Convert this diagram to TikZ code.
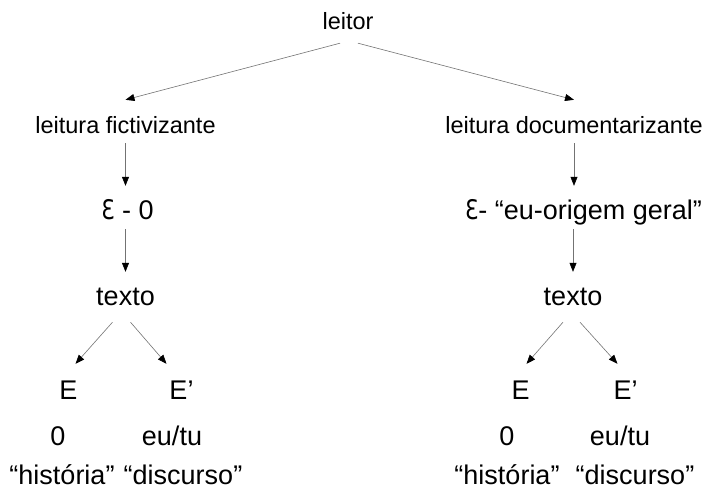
\documentclass[tikz,border=0pt]{standalone}
\usepackage{fontspec}
\setmainfont{Liberation Sans}
\newfontfamily\epsfont{DejaVu Sans}
\usetikzlibrary{arrows.meta}

\newcommand{\epsl}{\scalebox{0.8}[1]{\epsfont Ɛ}}

\begin{document}
\begin{tikzpicture}[x=1pt,y=-1pt,
    nivelsup/.style={font=\fontsize{23.5}{28}\selectfont, inner sep=0pt,
      anchor=base, text height=33pt, text depth=10pt},
    nivelinf/.style={font=\fontsize{27}{32}\selectfont, inner sep=0pt,
      anchor=base, text height=33pt, text depth=10pt},
    seta/.style={draw=black!55, line width=0.6pt,
      -{Triangle[length=9pt,width=7pt,color=black]}}]
  \useasboundingbox (0,0) rectangle (710,490);
  % top
  \node[nivelsup, text depth=14pt] (leitor) at (348,29) {leitor};
  \node[nivelsup] (lf) at (125.5,133) {leitura fictivizante};
  \node[nivelsup] (ld) at (574,133) {leitura documentarizante};
  % left branch
  \node[nivelinf] (eps0) at (127.5,219) {\epsl{} - 0};
  \node[nivelinf, text depth=17pt] (texto0) at (125.5,305) {texto};
  \node[nivelinf, text height=35pt] (E0) at (68.5,399) {E};
  \node[nivelinf, text height=35pt] (Ep0) at (181.5,399) {E’};
  \node[nivelinf] (zero0) at (58,445) {0};
  \node[nivelinf] (eutu0) at (172,445) {eu/tu};
  \node[nivelinf, text depth=1pt] (hist0) at (62,484) {“história”};
  \node[nivelinf, text depth=1pt] (disc0) at (183,484) {“discurso”};
  % right branch
  \node[nivelinf] (eps1) at (583.5,219) {\epsl- “eu-origem geral”};
  \node[nivelinf, text depth=17pt] (texto1) at (573,305) {texto};
  \node[nivelinf, text height=35pt] (E1) at (520.5,399) {E};
  \node[nivelinf, text height=35pt] (Ep1) at (625.5,399) {E’};
  \node[nivelinf] (zero1) at (507,445) {0};
  \node[nivelinf] (eutu1) at (620,445) {eu/tu};
  \node[nivelinf, text depth=1pt] (hist1) at (507,484) {“história”};
  \node[nivelinf, text depth=1pt] (disc1) at (635,484) {“discurso”};
  \begin{scope}[seta]
    \draw ([xshift=-8pt]leitor.south) -- (lf.north);
    \draw ([xshift=10pt]leitor.south) -- (ld.north);
    \draw (lf.south) -- (lf.south |- eps0.north);
    \draw (texto0.north |- eps0.south) -- (texto0.north);
    \draw (ld.south) -- (ld.south |- eps1.north);
    \draw (texto1.north |- eps1.south) -- (texto1.north);
    \draw ([xshift=-13pt]texto0.south) -- ([xshift=7pt]E0.north);
    \draw ([xshift=5pt]texto0.south) -- ([xshift=-15pt]Ep0.north);
    \draw ([xshift=-10pt]texto1.south) -- ([xshift=6pt]E1.north);
    \draw ([xshift=7pt]texto1.south) -- ([xshift=-8pt]Ep1.north);
  \end{scope}
\end{tikzpicture}
\end{document}
